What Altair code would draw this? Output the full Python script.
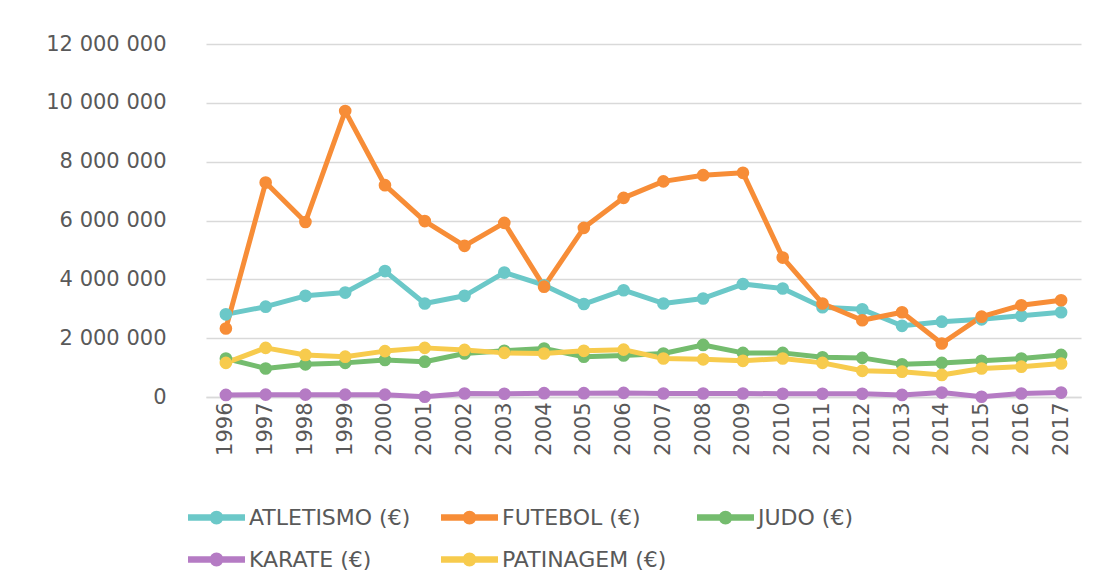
import altair as alt
import pandas as pd

years = [str(y) for y in range(1996, 2018)]

series_names = ["ATLETISMO (€)", "FUTEBOL (€)", "JUDO (€)", "KARATE (€)", "PATINAGEM (€)"]
colors = ["#6BC8C8", "#F78D37", "#74BC6E", "#B57BC4", "#F7CB4D"]

atletismo = [2810000, 3070000, 3440000, 3550000, 4280000, 3180000, 3440000, 4230000, 3800000, 3160000, 3630000,
             3180000, 3350000, 3840000, 3690000, 3050000, 2980000, 2420000, 2560000, 2640000, 2760000, 2880000]
futebol = [2330000, 7290000, 5950000, 9720000, 7200000, 5980000, 5140000, 5920000, 3750000, 5750000, 6770000,
           7330000, 7540000, 7620000, 4740000, 3180000, 2610000, 2880000, 1820000, 2730000, 3120000, 3290000]
judo = [1310000, 970000, 1110000, 1160000, 1260000, 1200000, 1480000, 1570000, 1650000, 1370000, 1410000,
        1480000, 1770000, 1500000, 1500000, 1350000, 1330000, 1110000, 1160000, 1230000, 1310000, 1430000]
karate = [70000, 80000, 80000, 80000, 80000, 10000, 120000, 110000, 130000, 130000, 140000,
          120000, 120000, 120000, 110000, 110000, 110000, 70000, 150000, 10000, 120000, 150000]
patinagem = [1160000, 1670000, 1430000, 1370000, 1560000, 1670000, 1600000, 1500000, 1480000, 1570000, 1610000,
             1310000, 1280000, 1230000, 1310000, 1160000, 890000, 860000, 750000, 970000, 1030000, 1140000]

y_ticks = [0, 2000000, 4000000, 6000000, 8000000, 10000000, 12000000]

all_values = [atletismo, futebol, judo, karate, patinagem]
rows = []
for k, (name, vals) in enumerate(zip(series_names, all_values)):
    for yr, v in zip(years, vals):
        rows.append({"Ano": yr, "Serie": name, "Valor": v, "k": k})
df = pd.DataFrame(rows)

FONT = "DejaVu Sans"
TXT = "#595959"
GRID = "#d9d9d9"

legend_symbol = ("M-1.444,-0.043 L1.444,-0.043 L1.444,0.043 L-1.444,0.043 Z "
                 "M-0.245,0 A0.245,0.245 0 1,1 0.245,0 A0.245,0.245 0 1,1 -0.245,0 Z "
                 "M-0.087,0 A0.087,0.087 0 1,1 0.087,0 A0.087,0.087 0 1,1 -0.087,0 Z")

chart = alt.Chart(df).mark_line(
    strokeWidth=5, strokeJoin="round", strokeCap="round",
    point=alt.OverlayMarkDef(filled=True, size=160, opacity=1),
).encode(
    x=alt.X(
        "Ano:O",
        scale=alt.Scale(type="point", padding=0.5),
        axis=alt.Axis(title=None, labelAngle=270, labelAlign="right", labelBaseline="middle",
                      labelPadding=5, ticks=False, domainColor=GRID, domainWidth=1.3,
                      labelFontSize=21, labelColor=TXT, labelFont=FONT, grid=False),
    ),
    y=alt.Y(
        "Valor:Q",
        scale=alt.Scale(domain=[0, 12000000]),
        axis=alt.Axis(title=None, values=y_ticks,
                      labelExpr="replace(format(datum.value, ','), /,/g, ' ')",
                      ticks=False, domain=False, gridColor=GRID, gridWidth=1.3,
                      labelPadding=40, labelFontSize=21, labelColor=TXT, labelFont=FONT),
    ),
    color=alt.Color(
        "Serie:N",
        scale=alt.Scale(domain=series_names, range=colors),
        legend=alt.Legend(title=None, orient="none", legendX=-10, legendY=453, direction="horizontal",
                          columns=3, padding=0, symbolType=legend_symbol, symbolSize=1296,
                          symbolStrokeWidth=5, symbolOpacity=1, labelFontSize=22, labelColor=TXT,
                          labelFont=FONT, labelLimit=400, columnPadding=22, rowPadding=7,
                          labelOffset=12),
    ),
    order=alt.Order("k:Q"),
).properties(
    width=875, height=353,
    autosize="none",
    padding={"left": 198, "top": 36, "right": 10, "bottom": 180},
    background="white",
).configure_view(stroke=None)

chart.save("out.html", embed_options={"renderer": "svg", "actions": False})
